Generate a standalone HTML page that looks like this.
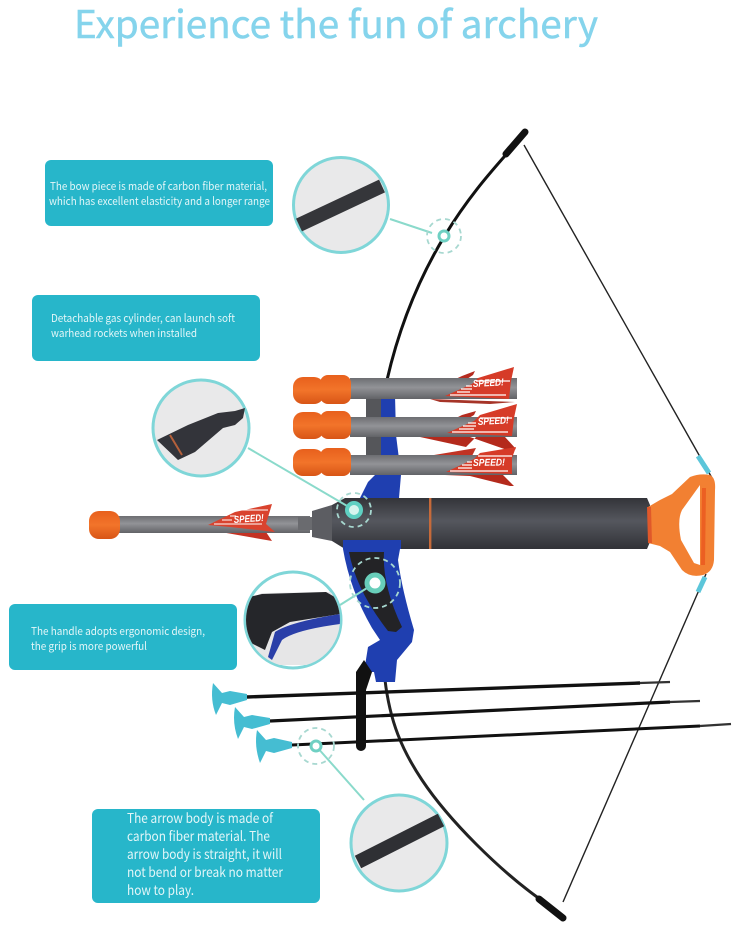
<!DOCTYPE html>
<html><head><meta charset="utf-8"><style>
html,body{margin:0;padding:0;background:#fff;width:737px;height:931px;overflow:hidden}
svg{display:block}
text{font-family:"Noto Sans CJK SC","Liberation Sans",sans-serif}
.w{fill:#e3f6f8;font-size:11px}
.s{fill:#fff;font-family:"Liberation Sans",sans-serif;font-weight:700;font-style:italic;font-size:10px}
</style></head><body>
<svg width="737" height="931" viewBox="0 0 737 931" xmlns="http://www.w3.org/2000/svg">
<defs>
<linearGradient id="cyl" x1="0" y1="0" x2="0" y2="1"><stop offset="0" stop-color="#333439"/><stop offset=".45" stop-color="#55575e"/><stop offset="1" stop-color="#313237"/></linearGradient>
<linearGradient id="tube" x1="0" y1="0" x2="0" y2="1"><stop offset="0" stop-color="#6d6e72"/><stop offset=".45" stop-color="#929397"/><stop offset="1" stop-color="#626367"/></linearGradient>
<linearGradient id="org" x1="0" y1="0" x2="0" y2="1"><stop offset="0" stop-color="#e8601c"/><stop offset=".5" stop-color="#f2742a"/><stop offset="1" stop-color="#d85516"/></linearGradient>
</defs>
<rect width="737" height="931" fill="#fff"/>

<text x="74" y="38" font-size="38" fill="#85d4ec" stroke="#85d4ec" stroke-width=".5" textLength="524" lengthAdjust="spacingAndGlyphs">Experience the fun of archery</text>

<!-- text boxes -->
<rect x="45" y="160" width="228" height="66" rx="6" fill="#27b6ca"/>
<rect x="32" y="295" width="228" height="66" rx="6" fill="#27b6ca"/>
<rect x="9" y="604" width="228" height="66" rx="6" fill="#27b6ca"/>
<rect x="92" y="809" width="228" height="94" rx="6" fill="#27b6ca"/>
<text class="w" x="50" y="190" textLength="217" lengthAdjust="spacingAndGlyphs">The bow piece is made of carbon fiber material,</text>
<text class="w" x="49" y="205" textLength="221" lengthAdjust="spacingAndGlyphs">which has excellent elasticity and a longer range</text>
<text class="w" x="51" y="322" textLength="184" lengthAdjust="spacingAndGlyphs">Detachable gas cylinder, can launch soft</text>
<text class="w" x="51" y="337" textLength="146" lengthAdjust="spacingAndGlyphs">warhead rockets when installed</text>
<text class="w" x="31" y="635" textLength="174" lengthAdjust="spacingAndGlyphs">The handle adopts ergonomic design,</text>
<text class="w" x="31" y="650" textLength="116" lengthAdjust="spacingAndGlyphs">the grip is more powerful</text>
<text class="w" style="font-size:13.5px" x="127" y="823" textLength="146" lengthAdjust="spacingAndGlyphs">The arrow body is made of</text>
<text class="w" style="font-size:13.5px" x="127" y="841" textLength="143" lengthAdjust="spacingAndGlyphs">carbon fiber material. The</text>
<text class="w" style="font-size:13.5px" x="127" y="859" textLength="155" lengthAdjust="spacingAndGlyphs">arrow body is straight, it will</text>
<text class="w" style="font-size:13.5px" x="127" y="877" textLength="156" lengthAdjust="spacingAndGlyphs">not bend or break no matter</text>
<text class="w" style="font-size:13.5px" x="127" y="895" textLength="67" lengthAdjust="spacingAndGlyphs">how to play.</text>

<!-- string -->
<path d="M524 145 L712 478" stroke="#222" stroke-width="1.4" fill="none"/>
<path d="M706 574 L563 902" stroke="#222" stroke-width="1.4" fill="none"/>
<path d="M698 456 L709 473" stroke="#5cc6da" stroke-width="5"/>
<path d="M705 577 L698 592" stroke="#5cc6da" stroke-width="5"/>

<!-- bow limbs -->
<path d="M518 143 L504 157 C475 190 415 258 387 380" stroke="#111" stroke-width="3" fill="none"/>
<path d="M525 132 L506 154" stroke="#111" stroke-width="7" fill="none" stroke-linecap="round"/>
<path d="M385 680 C390 722 402 750 422 780 C450 822 500 870 537 897" stroke="#222" stroke-width="3" fill="none"/>
<path d="M539 899 L563 918" stroke="#111" stroke-width="7" stroke-linecap="round"/>

<!-- riser upper (behind rockets) -->
<path d="M381 395 L395 395 L396 435 L401 475 L399 498 L360 498 L368 482 L380 470 Z" fill="#1f3fb0"/>
<rect x="366" y="395" width="15" height="65" fill="#55565a"/>

<!-- rockets -->
<g>
<path d="M430 399 L515 402 L490 404 L440 402 Z" fill="#a63428"/>
<path d="M436 388 L462 376 L475 371 L473 375 L455 387 Z" fill="#b52b1f"/>
<rect x="350" y="378" width="167" height="21" fill="url(#tube)"/>
<path d="M445 396 L472 384 L478 378 L514 367 L511 381 L509 399 Z" fill="#d63b28"/>
<path d="M450 395 H506 M457 392 H470 M461 389 H472 M466 386 H472 M476 381 H510" stroke="#fff" stroke-width="1.3"/>
<text class="s" x="473" y="387" transform="rotate(-3 473 387)" textLength="31" lengthAdjust="spacingAndGlyphs">SPEED!</text>
<rect x="293" y="377" width="31" height="27" rx="10" fill="url(#org)"/>
<rect x="320" y="375" width="31" height="29" rx="8" fill="url(#org)"/>
</g>
<g>
<path d="M420 437 L470 437 L510 451 L516 449 L505 437 L476 437 L466 447 Z" fill="#b42a1c"/>
<path d="M440 426 L462 415 L476 411 L474 415 L456 426 Z" fill="#b52b1f"/>
<rect x="350" y="417" width="167" height="20" fill="url(#tube)"/>
<path d="M447 433 L474 421 L480 415 L517 404 L514 418 L512 436 Z" fill="#d63b28"/>
<path d="M452 432 H508 M459 429 H474 M463 426 H476 M468 423 H476 M480 418 H512" stroke="#fff" stroke-width="1.3"/>
<text class="s" x="478" y="425" transform="rotate(-3 478 425)" textLength="31" lengthAdjust="spacingAndGlyphs">SPEED!</text>
<rect x="293" y="412" width="31" height="27" rx="10" fill="url(#org)"/>
<rect x="320" y="411" width="31" height="28" rx="8" fill="url(#org)"/>
</g>
<g>
<path d="M420 474 L470 476 L510 486 L514 486 L503 475 Z" fill="#b42a1c"/>
<path d="M434 455 L476 448 L472 456 L450 460 Z" fill="#c03324"/>
<rect x="350" y="455" width="167" height="20" fill="url(#tube)"/>
<path d="M446 472 L474 459 L480 453 L516 447 L512 458 L512 474 Z" fill="#d63b28"/>
<path d="M450 471 H508 M458 468 H472 M462 465 H472 M467 462 H472 M478 456 H512" stroke="#fff" stroke-width="1.3"/>
<text class="s" x="473" y="466" transform="rotate(-1 473 466)" textLength="32" lengthAdjust="spacingAndGlyphs">SPEED!</text>
<rect x="293" y="449" width="31" height="27" rx="10" fill="url(#org)"/>
<rect x="320" y="448" width="31" height="28" rx="8" fill="url(#org)"/>
</g>

<!-- single rocket -->
<path d="M215 531 L272 541 L266 532 Z" fill="#c43324"/>
<rect x="117" y="516" width="193" height="17" fill="url(#tube)"/>
<path d="M208 525 L235 512 L272 504 L266 524 L275 532 L230 527 Z" fill="#d9432e"/>
<path d="M214 524 H262 M222 520 H232 M230 516 H236 M240 510 H268" stroke="#fff" stroke-width="1.1"/>
<text class="s" x="234" y="523" transform="rotate(-4 234 523)" textLength="30" lengthAdjust="spacingAndGlyphs">SPEED!</text>
<rect x="89" y="511" width="31" height="28" rx="10" fill="url(#org)"/>

<!-- nozzle + cylinder -->
<rect x="298" y="517" width="16" height="13" fill="#6a6b6f"/>
<path d="M312 511 L332 505 L332 541 L312 537 Z" fill="#5c5d62"/>
<path d="M332 505 L345 498 L647 498 L650 505 L650 542 L647 549 L345 549 L332 541 Z" fill="url(#cyl)"/>
<rect x="429" y="498" width="2.4" height="51" fill="#c66a3a"/>

<!-- handle orange -->
<path d="M648 507 L660 500 L672 494 L690 477 Q700 473 710 475 Q716 478 715 490 L714 560 Q713 572 703 575 Q690 578 682 570 L670 552 L660 546 L648 543 Z" fill="#f28032"/>
<path d="M649 507 L650 543" stroke="#e0582a" stroke-width="4"/>
<path d="M700 485 L682 510 Q677 520 681 540 L694 563 L700 565 Z" fill="#fff"/>
<path d="M704 488 L703 565" stroke="#ec5f22" stroke-width="4"/>

<!-- lower riser -->
<rect x="343" y="540" width="58" height="9" fill="#1f3fb0"/>
<path d="M343 549 L400 549 L398 560 Q402 590 414 630 L412 642 L397 660 L395 682 L376 682 L374 672 L364 672 L368 647 L380 640 L372 628 Q350 590 343 549Z" fill="#1f3fb0"/>
<path d="M349 552 L384 552 Q382 585 402 627 L396 632 L388 631 Q356 590 349 552Z" fill="#232326"/>

<!-- stand -->
<path d="M356 672 L364 660 L372 672 L366 690 L366 746 A5 5 0 0 1 356 746 Z" fill="#111"/>

<!-- arrows -->
<path d="M247 697 L640 683" stroke="#111" stroke-width="3.4" fill="none"/>
<path d="M640 683 L670 682" stroke="#333" stroke-width="2.2"/>
<path d="M270 721 L670 702" stroke="#111" stroke-width="3.2" fill="none"/>
<path d="M670 702 L700 701" stroke="#333" stroke-width="2.2"/>
<path d="M292 745 L700 726" stroke="#111" stroke-width="3" fill="none"/>
<path d="M700 726 L731 724" stroke="#333" stroke-width="2.2"/>
<path d="M213 683 L222 693 L230 691 L247 694 L247 700 L230 705 L222 703 L216 715 Q210 700 213 683Z" fill="#45bdd2"/>
<path d="M235 707 L244 717 L252 715 L270 718 L270 724 L252 729 L244 727 L238 739 Q232 723 235 707Z" fill="#45bdd2"/>
<path d="M257 730 L266 740 L274 738 L292 742 L292 748 L274 753 L266 751 L260 763 Q254 746 257 730Z" fill="#45bdd2"/>

<!-- leaders + targets -->
<g fill="none" stroke="#8adacb" stroke-width="2">
<path d="M390 219 L432 233"/>
<path d="M248 448 L354 510"/>
<path d="M340 605 L375 583"/>
<path d="M316 746 L364 800"/>
</g>
<g fill="none" stroke="#a7d8d0" stroke-width="1.8" stroke-dasharray="5 4">
<circle cx="444" cy="236" r="17"/>
<circle cx="354" cy="510" r="17"/>
<circle cx="375" cy="583" r="25"/>
<circle cx="316" cy="746" r="18"/>
</g>
<circle cx="444" cy="236" r="5" fill="#fff" stroke="#6fd0c3" stroke-width="3"/>
<circle cx="354" cy="510" r="7" fill="#d6f5ee" stroke="#5fd0c2" stroke-width="4"/>
<circle cx="375" cy="583" r="8" fill="#fff" stroke="#68ceba" stroke-width="5"/>
<circle cx="316" cy="746" r="5" fill="#fff" stroke="#6fd0c3" stroke-width="3"/>

<!-- detail circles -->
<circle cx="341" cy="205" r="47.5" fill="#e9e9ea" stroke="#7fd6d8" stroke-width="3"/>
<path d="M299 225 L382 186" stroke="#35363a" stroke-width="14"/>

<circle cx="201" cy="428" r="48" fill="#e9e9ea" stroke="#7fd6d8" stroke-width="3"/>
<path d="M157 440 L188 425 L218 413 L235 411 L245 408 L243 418 L235 425 L223 428 L195 452 L178 460 Z" fill="#33343a"/>
<path d="M170 435 L182 455" stroke="#b5603a" stroke-width="2"/>

<clipPath id="c3"><circle cx="293" cy="620" r="47"/></clipPath>
<circle cx="293" cy="620" r="48" fill="#fff" stroke="#7fd6d8" stroke-width="3"/>
<g clip-path="url(#c3)">
<path d="M240 604 L262 593 L330 592 L345 600 L345 640 L330 665 L240 665Z" fill="#e6e6e7"/>
<path d="M245 598 L262 594 L326 592 L340 600 L340 614 L290 622 L272 632 L265 650 L245 640 Z" fill="#25262a"/>
<path d="M340 614 Q290 622 275 632 L268 657 L272 660 L282 640 Q295 630 340 624 Z" fill="#2a3fa8"/>
</g>

<circle cx="399" cy="843" r="48" fill="#e9e9ea" stroke="#7fd6d8" stroke-width="3"/>
<path d="M358 862 L441 820" stroke="#2f3034" stroke-width="14"/>
</svg>
</body></html>
